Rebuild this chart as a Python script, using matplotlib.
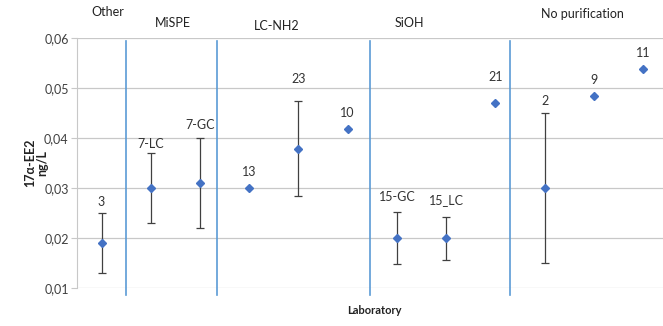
import matplotlib
matplotlib.use("Agg")
import matplotlib.pyplot as plt

plt.rcParams['font.family'] = ['Lato', 'DejaVu Sans']

labs = ["3", "7-LC", "7-GC", "13", "23", "10", "15-GC", "15_LC", "21", "2", "9", "11"]
values = [0.019, 0.030, 0.031, 0.030, 0.0378, 0.0417, 0.020, 0.020, 0.0469, 0.030, 0.0483, 0.0538]
err_low = [0.013, 0.023, 0.022, None, 0.0283, None, 0.0147, 0.0156, None, 0.015, None, None]
err_high = [0.025, 0.037, 0.040, None, 0.0473, None, 0.0251, 0.0241, None, 0.045, None, None]

# vertical placement of each point's data label (axis units)
label_y = [0.0271, 0.0388, 0.0425, 0.0331, 0.0518, 0.0450,
           0.0281, 0.0275, 0.0521, 0.0474, 0.0515, 0.0569]

groups = ["Other", "MiSPE", "LC-NH2", "SiOH", "No purification"]
group_x = [1.12, 2.45, 4.55, 7.25, 10.77]
group_y = [0.0652, 0.0630, 0.0624, 0.0630, 0.0648]
separators = [1.50, 3.35, 6.45, 9.30]

yticks = [0.01, 0.02, 0.03, 0.04, 0.05, 0.06]
ytick_labels = ["0,01", "0,02", "0,03", "0,04", "0,05", "0,06"]

fig = plt.figure(figsize=(6.63, 3.26), dpi=100)
ax = fig.add_axes([0.1161, 0.1166, 0.8908, 0.7669])

x = list(range(1, len(labs) + 1))
blue = "#4472C4"
grey = "#404040"

for xi, v, lo, hi in zip(x, values, err_low, err_high):
    if lo is not None:
        ax.errorbar(xi, v, yerr=[[v - lo], [hi - v]], fmt="none",
                    ecolor=grey, elinewidth=0.9, capsize=3, capthick=0.9, zorder=3)
ax.plot(x, values, linestyle="none", marker="D", markersize=4.5,
        color=blue, zorder=4)

for xi, ly, lab in zip(x, label_y, labs):
    ax.text(xi, ly, lab, ha="center", va="center",
            fontsize=9, color="#333333")

for s in separators:
    ax.plot([s, s], [0.0086, 0.0593], color="#5B9BD5", linewidth=1.2,
            clip_on=False, zorder=2)

for g, gx, gy in zip(groups, group_x, group_y):
    ax.text(gx, gy, g, ha="center", va="center", fontsize=9, color="#222222")

ax.set_xlim(0.5, 12.5)
ax.set_ylim(0.01, 0.06)
ax.set_yticks(yticks)
ax.set_yticklabels(ytick_labels, fontsize=9, color="#404040")
ax.set_xticks([])
ax.grid(axis="y", color="#C8C8C8", linewidth=0.9)
ax.set_axisbelow(True)
ax.tick_params(axis="y", length=4, color="#C8C8C8", pad=2)
for side in ["top", "right", "bottom"]:
    ax.spines[side].set_visible(False)
ax.spines["left"].set_color("#C8C8C8")

fig.text(36 / 663, 1 - 163 / 326, "17α-EE2\nng/L", rotation=90, ha="center",
         va="center", fontsize=9, fontweight="bold", color="#222222",
         linespacing=1.05, multialignment="center")
fig.text(374 / 663, 1 - 310 / 326, "Laboratory", ha="center", va="center",
         fontsize=8, fontweight="bold", color="#222222")

fig.savefig("out.png", dpi=100)
